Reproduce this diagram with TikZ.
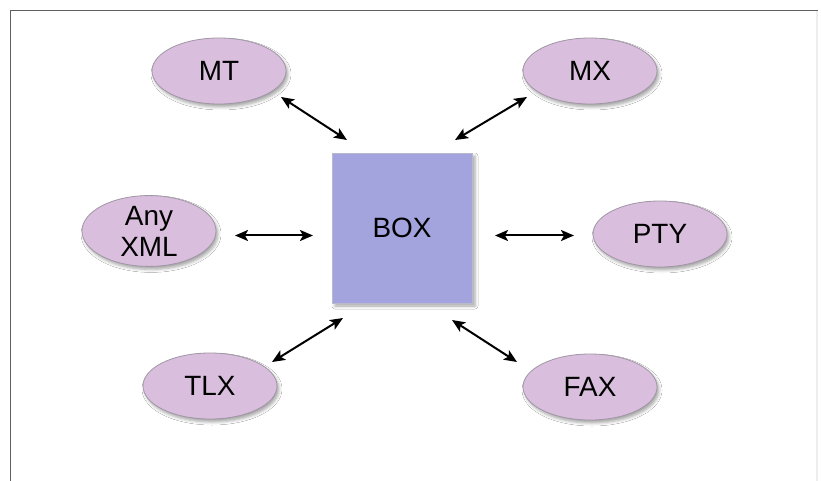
\documentclass[tikz,border=0pt]{standalone}
\usepackage{fontspec}
\setmainfont{Liberation Sans}
\usetikzlibrary{arrows.meta,shapes.geometric,shadows.blur}

\definecolor{ovalfill}{RGB}{217,191,221}
\definecolor{ovaledge}{RGB}{160,150,165}
\definecolor{boxfill}{RGB}{163,163,222}
\definecolor{boxedge}{RGB}{185,185,205}
\definecolor{framegray}{RGB}{95,95,95}
\definecolor{frameside}{RGB}{238,238,238}

\tikzset{
  oval/.style={ellipse, draw=ovaledge, line width=0.8bp, fill=ovalfill,
    minimum width=134bp, minimum height=66bp, inner sep=0pt,
    font=\fontsize{28}{32}\selectfont, align=center,
    blur shadow={shadow xshift=2bp, shadow yshift=-3bp, shadow blur radius=3bp, shadow opacity=35}},
  hub/.style={rectangle, draw=boxedge, line width=0.8bp, fill=boxfill,
    minimum width=140bp, minimum height=150bp, inner sep=0pt,
    font=\fontsize{28}{32}\selectfont,
    blur shadow={shadow xshift=3bp, shadow yshift=-3bp, shadow blur radius=3bp, shadow opacity=35}},
  link/.style={line width=2bp, black, {Stealth[length=13bp,width=11bp,inset=3bp]}-{Stealth[length=13bp,width=11bp,inset=3bp]}}
}

\begin{document}
\begin{tikzpicture}[x=1bp,y=-1bp]
  \useasboundingbox (0,0) rectangle (821,481);
  \fill[white] (0,0) rectangle (821,481);

  % page frame
  \draw[frameside, line width=2bp] (817,11) -- (817,481);
  \draw[framegray, line width=1.6bp] (10.5,10.5) -- (818,10.5);
  \draw[framegray, line width=1.6bp] (10.5,10.5) -- (10.5,481);

  % central box
  \node[hub] (box) at (402,228) {BOX};

  % surrounding ovals
  \node[oval] (mt)  at (219,71)  {MT};
  \node[oval] (mx)  at (590,71)  {MX};
  \node[oval] (xml) at (149,231) {Any\\[-1pt]XML};
  \node[oval] (pty) at (660,234) {PTY};
  \node[oval] (tlx) at (210,386) {TLX};
  \node[oval] (fax) at (590,387) {FAX};

  % arrow end points
  \coordinate (mtA)  at (281,97);
  \coordinate (mtB)  at (347,140);
  \coordinate (mxA)  at (527,97);
  \coordinate (mxB)  at (455,140);
  \coordinate (xmlA) at (235,235.5);
  \coordinate (xmlB) at (313,235.5);
  \coordinate (ptyA) at (574,235.5);
  \coordinate (ptyB) at (495,235.5);
  \coordinate (tlxA) at (272,362);
  \coordinate (tlxB) at (343,318);
  \coordinate (faxA) at (517,362);
  \coordinate (faxB) at (452,320);

  % two-way links
  \draw[link] (mtA) -- (mtB);
  \draw[link] (mxA) -- (mxB);
  \draw[link] (xmlA) -- (xmlB);
  \draw[link] (ptyA) -- (ptyB);
  \draw[link] (tlxA) -- (tlxB);
  \draw[link] (faxA) -- (faxB);
\end{tikzpicture}
\end{document}
